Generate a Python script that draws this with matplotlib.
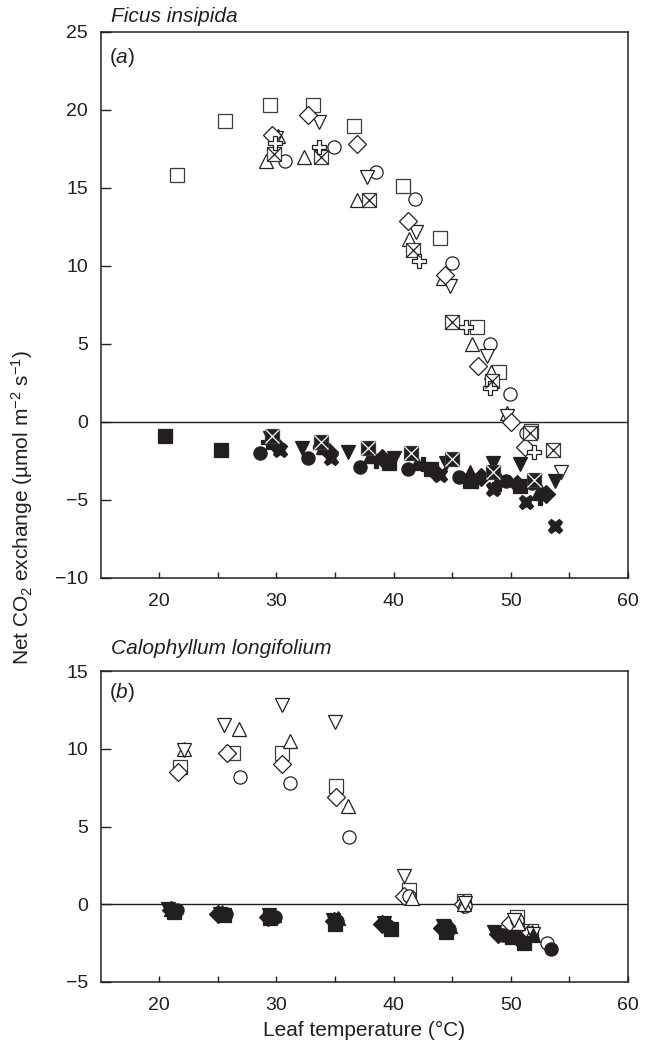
import numpy as np
import matplotlib
matplotlib.use("Agg")
import matplotlib.pyplot as plt

plt.rcParams['font.family'] = ['Liberation Sans', 'DejaVu Sans']
plt.rcParams['mathtext.fontset'] = 'custom'
plt.rcParams['mathtext.rm'] = 'Liberation Sans'
plt.rcParams['mathtext.it'] = 'Liberation Sans:italic'

INK = '#231f20'

# ---- (a) Ficus insipida : open = light, filled = dark ----
fa_sq = [(21.5, 15.8), (25.6, 19.3), (29.5, 20.3), (33.1, 20.3), (36.6, 19.0), (40.8, 15.1),
         (44.0, 11.8), (47.1, 6.1), (49.0, 3.2), (51.7, -0.6)]
fa_ci = [(30.7, 16.7), (34.9, 17.6), (38.5, 16.0), (41.8, 14.3), (45.0, 10.2), (48.2, 5.0),
         (49.9, 1.8), (51.3, -0.7)]
fa_tu = [(29.1, 16.7), (30.1, 18.3), (32.4, 17.0), (36.9, 14.2), (41.3, 11.7), (44.2, 9.2),
         (46.7, 5.0), (48.3, 3.2), (49.7, 0.6)]
fa_td = [(30.0, 18.2), (33.6, 19.2), (37.7, 15.7), (41.9, 12.2), (44.8, 8.7), (48.0, 4.2),
         (49.7, 0.4), (54.3, -3.2)]
fa_di = [(29.6, 18.4), (32.7, 19.7), (36.9, 17.8), (41.2, 12.9), (44.4, 9.4), (47.2, 3.6),
         (50.0, 0.0), (51.2, -1.6)]
fa_xs = [(29.8, 17.2), (33.8, 17.0), (37.9, 14.2), (41.7, 11.0), (45.0, 6.4), (48.4, 2.6),
         (51.6, -0.7), (53.6, -1.8)]
fa_pl = [(29.9, 17.9), (33.6, 17.6), (42.2, 10.3), (46.2, 6.1), (48.2, 2.2), (52.0, -1.9)]

fa_sq_f = [(20.5, -0.9), (25.3, -1.8), (39.6, -2.6), (43.2, -3.0), (46.5, -3.8), (50.8, -4.1)]
fa_ci_f = [(28.6, -2.0), (32.7, -2.3), (37.1, -2.9), (41.2, -3.0), (45.6, -3.5), (49.6, -3.8),
           (51.8, -3.9)]
fa_tu_f = [(29.8, -1.2), (34.0, -1.6), (38.0, -2.2), (42.0, -2.6), (46.5, -3.2), (49.0, -3.6),
           (52.5, -4.3)]
fa_td_f = [(29.5, -1.0), (32.2, -1.7), (36.1, -1.9), (40.0, -2.3), (44.5, -2.6), (48.5, -2.6),
           (50.8, -2.7), (53.8, -3.8)]
fa_di_f = [(30.0, -1.5), (34.5, -1.9), (39.0, -2.3), (43.5, -3.2), (47.5, -3.5), (50.5, -4.0),
           (53.0, -4.6)]
fa_pl_f = [(29.3, -1.3), (33.7, -1.6), (38.5, -2.5), (42.5, -2.7), (47.0, -3.8), (49.0, -4.0),
           (52.5, -4.9)]
fa_x_f = [(30.3, -1.8), (34.7, -2.3), (39.5, -2.4), (44.0, -3.4), (48.5, -4.3), (51.3, -5.1),
          (53.8, -6.7)]
fa_xs_f = [(29.6, -0.9), (33.8, -1.3), (37.8, -1.7), (41.5, -2.0), (45.0, -2.4), (48.5, -3.2),
           (52.0, -3.7)]

# ---- (b) Calophyllum longifolium ----
cb_sq = [(21.8, 8.8), (26.3, 9.7), (30.5, 9.7), (35.1, 7.6), (41.3, 0.9), (46.0, 0.2),
         (50.5, -0.8), (51.7, -1.7)]
cb_di = [(21.6, 8.5), (25.8, 9.7), (30.5, 9.0), (35.1, 6.9), (40.9, 0.5), (45.9, 0.0),
         (49.9, -1.2), (51.5, -1.9)]
cb_ci = [(26.9, 8.2), (31.2, 7.8), (36.2, 4.3), (41.3, 0.5), (46.1, -0.1), (50.5, -1.0),
         (53.1, -2.5)]
cb_tu = [(22.1, 10.0), (26.8, 11.3), (31.2, 10.5), (36.1, 6.3), (41.6, 0.4), (46.0, 0.0),
         (50.6, -1.2), (51.8, -1.8)]
cb_td = [(22.1, 9.9), (25.5, 11.5), (30.5, 12.8), (35.0, 11.7), (40.9, 1.8), (46.1, 0.1),
         (50.3, -1.0), (51.9, -1.9)]

cb_sq_f = [(21.3, -0.5), (25.5, -0.7), (29.5, -0.9), (35.0, -1.3), (39.8, -1.6), (44.5, -1.8),
           (50.1, -2.1), (51.1, -2.5)]
cb_ci_f = [(21.5, -0.4), (25.7, -0.6), (29.9, -0.8), (35.2, -1.1), (39.5, -1.4), (44.7, -1.6),
           (49.3, -2.0), (53.4, -2.9)]
cb_tu_f = [(21.0, -0.3), (25.4, -0.5), (29.8, -0.7), (35.3, -0.9), (39.6, -1.3), (44.8, -1.4),
           (51.9, -2.0)]
cb_td_f = [(20.8, -0.3), (25.2, -0.6), (29.4, -0.7), (34.8, -1.0), (39.2, -1.2), (44.2, -1.4),
           (48.6, -1.8)]
cb_di_f = [(21.0, -0.4), (25.0, -0.6), (29.3, -0.8), (34.9, -1.1), (39.0, -1.3), (44.1, -1.5),
           (48.9, -1.9), (50.8, -2.3)]

xticks = [20, 30, 40, 50, 60]


def pts(ax, data, marker, ms=9.5, filled=False, ec=INK, lw=0.9):
    d = np.array(data)
    fc = INK if filled else 'white'
    ax.plot(d[:, 0], d[:, 1], ls='none', marker=marker, ms=ms, mfc=fc, mec=ec, mew=lw,
            zorder=3)


def crossed(ax, data, filled=False):
    d = np.array(data)
    pts(ax, data, 's', ms=9.5, filled=filled, ec='#3a3a3a')
    ax.plot(d[:, 0], d[:, 1], ls='none', marker='x', ms=9.5, mec='white' if filled else INK,
            mew=0.9, zorder=4)


def style(ax, ylim, yt):
    ax.set_xlim(15, 60)
    ax.set_ylim(*ylim)
    ax.set_xticks(xticks)
    ax.set_xticks([25, 35, 45, 55], minor=True)
    ax.set_yticks(yt)
    ax.axhline(0, color=INK, lw=1.0, zorder=2)
    ax.tick_params(axis='x', which='both', direction='in', length=4.5, width=1.0, pad=11,
                   labelsize=14, colors=INK, top=False)
    ax.tick_params(axis='y', direction='in', length=7, width=1.0, pad=9, labelsize=14,
                   colors=INK, right=False)
    for s in ax.spines.values():
        s.set_linewidth(1.1)
        s.set_color(INK)


fig = plt.figure(figsize=(6.48, 10.41), dpi=100)
ax1 = fig.add_axes([0.1551, 0.4448, 0.8140, 0.5245])
ax2 = fig.add_axes([0.1551, 0.0567, 0.8140, 0.2987])

# panel a
pts(ax1, fa_sq, 's', ec='#3a3a3a')
pts(ax1, fa_ci, 'o')
pts(ax1, fa_tu, '^')
pts(ax1, fa_td, 'v')
pts(ax1, fa_di, 'D', ms=9)
crossed(ax1, fa_xs)
pts(ax1, fa_pl, 'P', ms=10.5)

pts(ax1, fa_sq_f, 's', filled=True)
pts(ax1, fa_ci_f, 'o', filled=True)
pts(ax1, fa_tu_f, '^', filled=True)
pts(ax1, fa_td_f, 'v', filled=True)
pts(ax1, fa_di_f, 'D', ms=9, filled=True)
pts(ax1, fa_pl_f, 'P', ms=10.5, filled=True)
pts(ax1, fa_x_f, 'X', ms=10.5, filled=True)
crossed(ax1, fa_xs_f, filled=True)
style(ax1, (-10, 25), [-10, -5, 0, 5, 10, 15, 20, 25])

# panel b
pts(ax2, cb_sq, 's', ec='#3a3a3a')
pts(ax2, cb_di, 'D', ms=9)
pts(ax2, cb_ci, 'o')
pts(ax2, cb_tu, '^')
pts(ax2, cb_td, 'v')

pts(ax2, cb_sq_f, 's', filled=True)
pts(ax2, cb_ci_f, 'o', filled=True)
pts(ax2, cb_tu_f, '^', filled=True)
pts(ax2, cb_td_f, 'v', filled=True)
pts(ax2, cb_di_f, 'D', ms=9, filled=True)
style(ax2, (-5, 15), [-5, 0, 5, 10, 15])

# labels
fig.text(0.172, 0.9837, 'Ficus insipida', style='italic', fontsize=15, color=INK,
         ha='left', va='center')
fig.text(0.172, 0.3766, 'Calophyllum longifolium', style='italic', fontsize=15, color=INK,
         ha='left', va='center')
ax1.text(0.016, 0.953, r'($\it{a}$)', transform=ax1.transAxes, fontsize=15, color=INK,
         ha='left', va='center')
ax2.text(0.016, 0.93, r'($\it{b}$)', transform=ax2.transAxes, fontsize=15, color=INK,
         ha='left', va='center')
fig.text(0.034, 0.513, r'Net CO$_2$ exchange (µmol m$^{-2}$ s$^{-1}$)', rotation=90,
         fontsize=15, color=INK, ha='center', va='center')
fig.text(0.5624, 0.0105, 'Leaf temperature (°C)', fontsize=15, color=INK,
         ha='center', va='center')

fig.savefig('out.png', dpi=100)
